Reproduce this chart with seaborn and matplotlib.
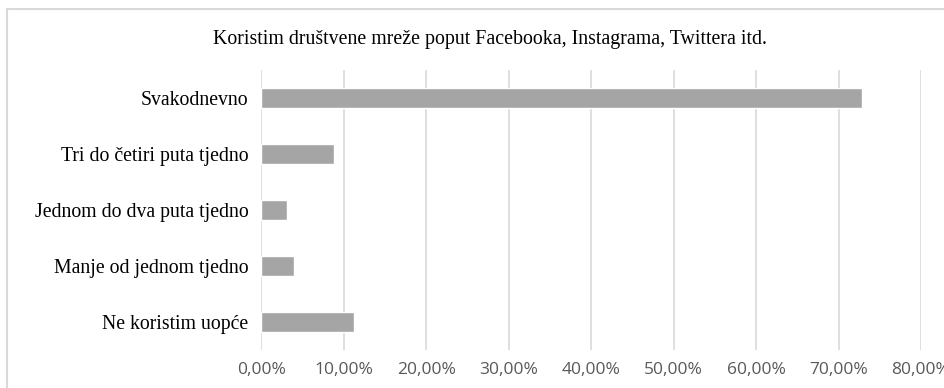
import matplotlib
matplotlib.use("Agg")
import matplotlib.pyplot as plt
import seaborn as sns
import pandas as pd
from matplotlib.ticker import FuncFormatter, MultipleLocator
from matplotlib.patches import Rectangle

title = "Koristim društvene mreže poput Facebooka, Instagrama, Twittera itd."
categories = ["Svakodnevno", "Tri do četiri puta tjedno", "Jednom do dva puta tjedno",
              "Manje od jednom tjedno", "Ne koristim uopće"]
values = [72.8, 8.8, 3.1, 3.9, 11.2]

df = pd.DataFrame({"cat": categories, "val": values})

sns.set_theme(style="white")
plt.rcParams['font.family'] = ['Liberation Serif', 'DejaVu Sans']

fig = plt.figure(figsize=(9.45, 3.88), dpi=100)
ax = fig.add_axes([0.2767, 0.098, 0.9746 - 0.2767, 0.820 - 0.098])

sns.barplot(data=df, x="val", y="cat", color="#a5a5a5", width=0.35, ax=ax,
            saturation=1, orient="h", zorder=3)

ax.set_xlim(0, 80)
ax.set_ylim(4.5, -0.5)
ax.xaxis.set_major_locator(MultipleLocator(10))
ax.xaxis.set_major_formatter(FuncFormatter(lambda v, p: f"{v:.2f}%".replace(".", ",")))
ax.grid(axis="x", color="#d9d9d9", linewidth=1.2, zorder=0)
ax.grid(axis="y", visible=False)
for s in ax.spines.values():
    s.set_visible(False)
ax.set_xlabel("")
ax.set_ylabel("")
ax.tick_params(axis="x", length=0, pad=9, labelsize=12.5, labelcolor="#595959")
ax.tick_params(axis="y", length=0, pad=9.5, labelsize=14.2, labelcolor="#000000")
for lab in ax.get_xticklabels():
    lab.set_family(["Open Sans", "DejaVu Sans"])

fig.text(0.518, 0.897, title, ha="center", va="center", fontsize=14.3, color="#000000")

fig.patches.append(Rectangle((7.5 / 945, -0.1), 1.2, 1.1 - 9.5 / 388,
                             transform=fig.transFigure, fill=False,
                             edgecolor="#d9d9d9", linewidth=1.5))

fig.savefig("out.png", dpi=100)
